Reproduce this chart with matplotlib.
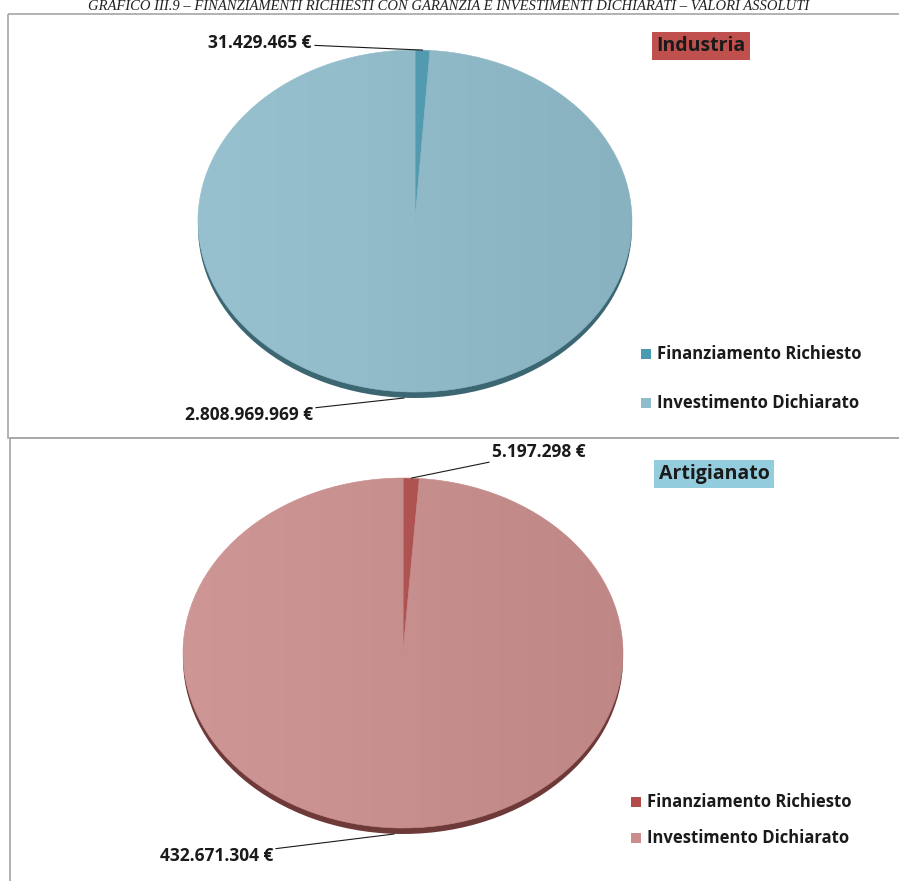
import numpy as np
import matplotlib.pyplot as plt
from matplotlib.patches import Rectangle

W, H = 899, 881

# valori assoluti (euro)
categorie = ['Finanziamento Richiesto', 'Investimento Dichiarato']
industria = [31429465, 2808969969]
artigianato = [5197298, 432671304]
etichette_ind = ['31.429.465 €', '2.808.969.969 €']
etichette_art = ['5.197.298 €', '432.671.304 €']

col_ind = ['#4A9AB2', '#8FBDCC']
col_art = ['#B14C4A', '#CB8D8B']
rim_ind = '#3D6673'
rim_art = '#6E3A39'

plt.rcParams['font.family'] = ['Open Sans', 'DejaVu Sans']

fig = plt.figure(figsize=(W / 100, H / 100), dpi=100)
fig.patch.set_facecolor('white')


def fx(x):
    return x / W


def fy(y):
    return 1 - y / H


# cornici dei due riquadri
bg = fig.add_axes([0, 0, 1, 1])
bg.set_xlim(0, W)
bg.set_ylim(H, 0)
bg.axis('off')
bg.add_patch(Rectangle((8, 14), 1000, 424, fill=False, ec='#A6A6A6', lw=1.2))
bg.add_patch(Rectangle((10, 438), 1000, 500, fill=False, ec='#A6A6A6', lw=1.2))

fig.text(fx(449), fy(7), 'GRAFICO III.9 – FINANZIAMENTI RICHIESTI CON GARANZIA E INVESTIMENTI DICHIARATI – VALORI ASSOLUTI',
         family='Liberation Serif', style='italic', fontsize=10.5, ha='center', va='center', color='#222222')


def torta(valori, colori, rim, cx, cy, rx, ry):
    ax = fig.add_axes([fx(cx - rx), fy(cy + ry + 8), (2 * rx) / W, (2 * ry + 8) / H])
    ax.set_xlim(-1, 1)
    ax.set_ylim(-1 - 8 / ry, 1)
    ax.set_aspect('auto')
    ax.axis('off')
    # bordo scuro sotto il disco
    ax.pie(valori, colors=[rim, rim], startangle=90, counterclock=False,
           center=(0, -6 / ry), radius=1, wedgeprops=dict(lw=0))
    wedges, _ = ax.pie(valori, colors=colori, startangle=90, counterclock=False,
                       radius=1, wedgeprops=dict(lw=0.4, ec=colori[1]))
    # leggera sfumatura da sinistra a destra
    grad = np.linspace(0, 1, 256).reshape(1, -1)
    for w in wedges:
        im = ax.imshow(grad, extent=[-1, 1, -1, 1], cmap='Greys', alpha=0.1,
                       aspect='auto', zorder=3, vmin=-0.3, vmax=1.4)
        im.set_clip_path(w)
    ax.set_xlim(-1, 1)
    ax.set_ylim(-1 - 8 / ry, 1)
    return ax, wedges


def punto(valori, i):
    tot = sum(valori)
    a0 = 90 - 360 * sum(valori[:i]) / tot
    a1 = a0 - 360 * valori[i] / tot
    a = np.radians((a0 + a1) / 2)
    return np.cos(a), np.sin(a)


linea = dict(arrowstyle='-', color='#1A1A1A', lw=0.8, shrinkA=0, shrinkB=0)
fs_lab = 12.5
fs_leg = 12

# Industria
ax1, w1 = torta(industria, col_ind, rim_ind, 415, 221, 217, 171)
x, y = punto(industria, 0)
ax1.annotate(etichette_ind[0], xy=(x, y), xycoords='data',
             xytext=(fx(312), fy(43)), textcoords='figure fraction',
             ha='right', va='center', fontsize=fs_lab, fontweight='bold', color='#1A1A1A',
             arrowprops=linea)
ax1.annotate(etichette_ind[1], xy=(-0.05, -1 - 6 / 171), xycoords='data',
             xytext=(fx(313), fy(415)), textcoords='figure fraction',
             ha='right', va='center', fontsize=fs_lab, fontweight='bold', color='#1A1A1A',
             arrowprops=linea)

# Artigianato
ax2, w2 = torta(artigianato, col_art, rim_art, 403, 653, 220, 175)
x, y = punto(artigianato, 0)
ax2.annotate(etichette_art[0], xy=(x, y), xycoords='data',
             xytext=(fx(492), fy(452)), textcoords='figure fraction',
             ha='left', va='center', fontsize=fs_lab, fontweight='bold', color='#1A1A1A',
             arrowprops=linea)
ax2.annotate(etichette_art[1], xy=(-0.04, -1 - 6 / 175), xycoords='data',
             xytext=(fx(273), fy(856)), textcoords='figure fraction',
             ha='right', va='center', fontsize=fs_lab, fontweight='bold', color='#1A1A1A',
             arrowprops=linea)

# titoli dei riquadri
fig.text(fx(701), fy(46), 'Industria', ha='center', va='center', fontsize=14,
         fontweight='bold', color='#1A1A1A',
         bbox=dict(boxstyle='square,pad=0.22', fc='#C0504D', ec='none'))
fig.text(fx(714), fy(474), 'Artigianato', ha='center', va='center', fontsize=14,
         fontweight='bold', color='#1A1A1A',
         bbox=dict(boxstyle='square,pad=0.22', fc='#93CDDD', ec='none'))

# legende
for colori, (lx, ly0, ly1) in [(col_ind, (646, 354, 403)), (col_art, (636, 802, 838))]:
    for c, nome, ly in zip(colori, categorie, (ly0, ly1)):
        bg.add_patch(Rectangle((lx - 5, ly - 5), 10, 10, fc=c, ec='none'))
        bg.text(lx + 11, ly, nome, ha='left', va='center', fontsize=fs_leg,
                fontweight='bold', color='#1A1A1A')

fig.savefig('out.png', dpi=100, facecolor='white')
